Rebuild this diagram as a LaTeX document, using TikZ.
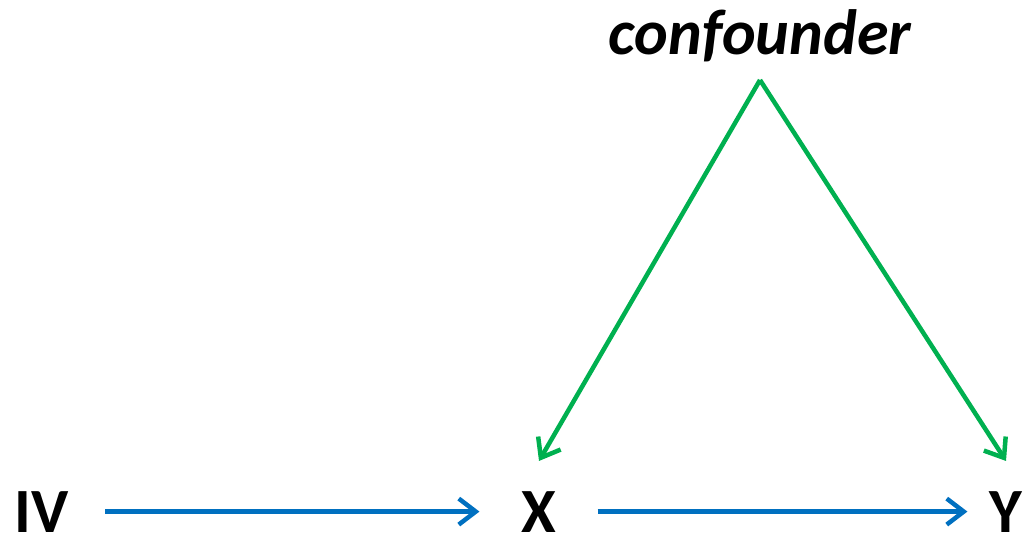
\documentclass[tikz,border=0pt]{standalone}
\usepackage{fontspec}
\setmainfont{Carlito}
\usepackage{tikz}
\usetikzlibrary{arrows.meta,positioning}
\definecolor{OfficeBlue}{HTML}{0070C0}
\definecolor{OfficeGreen}{HTML}{00B050}
\tikzset{
  var/.style={inner sep=0pt, anchor=base, font=\fontsize{63}{70}\selectfont\bfseries},
  conf/.style={var, font=\fontsize{64}{70}\selectfont\bfseries\itshape},
  causal/.style={OfficeBlue, line width=4.5pt, -{Straight Barb[length=17pt,width=26pt]}},
  confound/.style={OfficeGreen, line width=4.5pt, -{Straight Barb[length=17pt,width=26pt]}}
}
\begin{document}
\begin{tikzpicture}[x=1pt, y=-1pt]
\useasboundingbox (0,0) rectangle (1025,538);
\node[var] (iv) at (42,532) {IV};
\node[var] (x) at (539,532) {X};
\node[var] (y) at (1006,532) {Y};
\node[conf] (cf) at (760,54) {confounder};
\coordinate (apex) at (760,80);
\draw[causal, shorten <=36pt, shorten >=42pt] (iv.east) -- (x.west);
\draw[causal, shorten <=41pt, shorten >=22pt] (x.east) -- (y.west);
\draw[confound] (apex) -- ([yshift=30pt]x.north);
\draw[confound] (apex) -- ([yshift=30pt]y.north);
\end{tikzpicture}
\end{document}
